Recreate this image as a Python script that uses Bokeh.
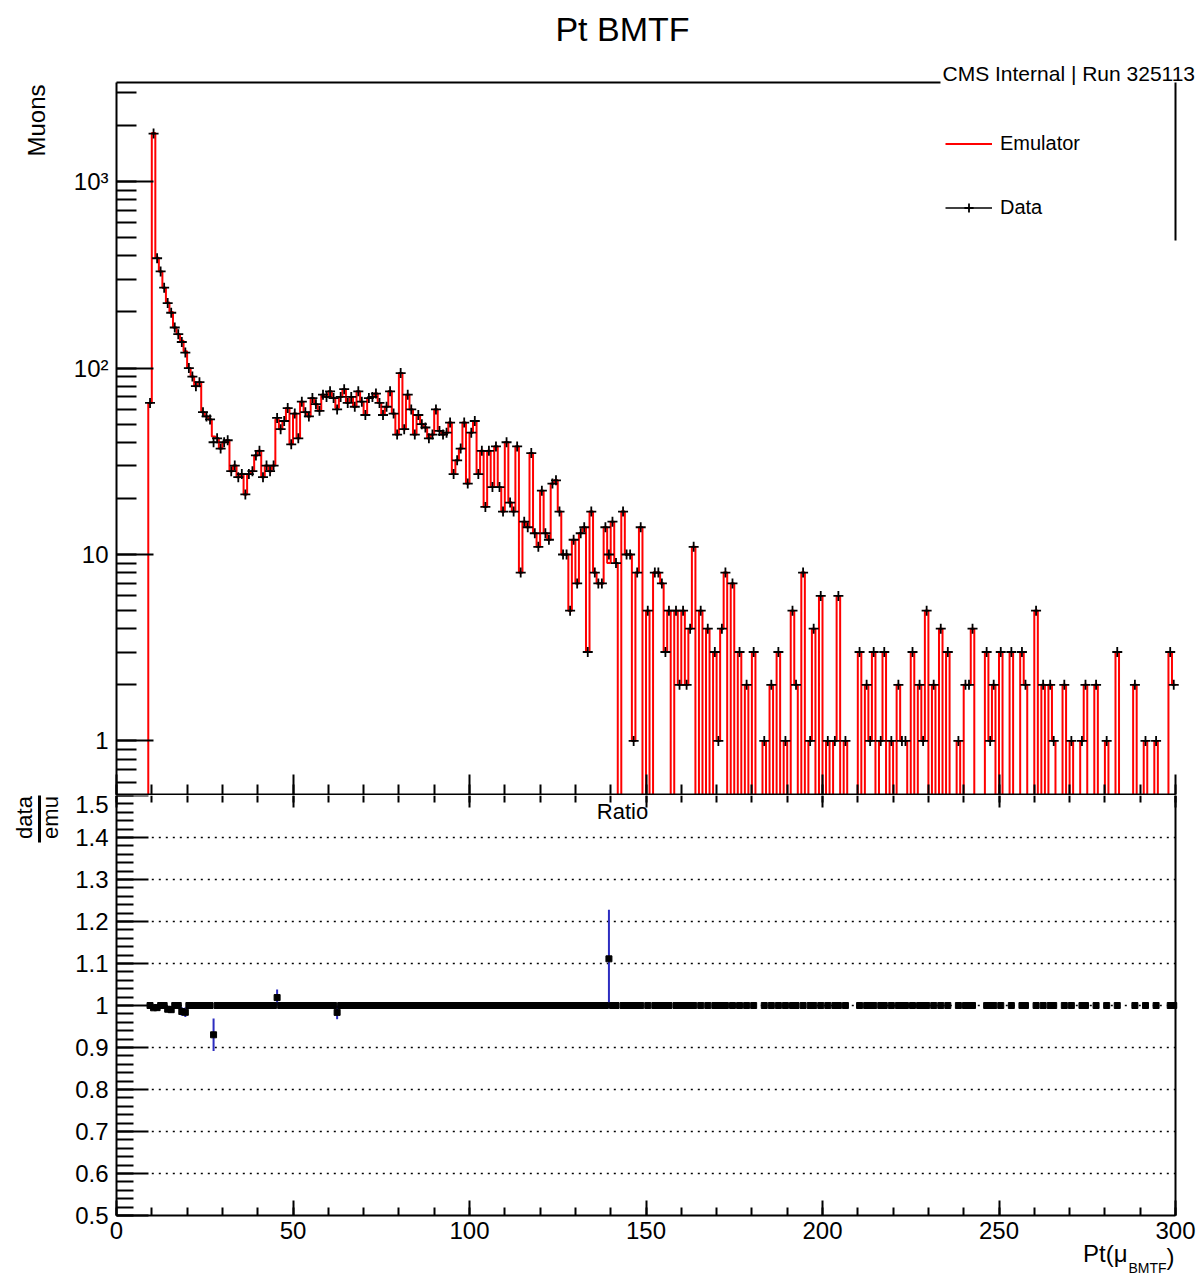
import numpy as np
from bokeh.plotting import figure
from bokeh.layouts import column
from bokeh.models import (Range1d, LinearAxis, LogAxis, FixedTicker, SingleIntervalTicker,
                          CustomJSTickFormatter, Label, Legend, LegendItem)
from bokeh.embed import file_html
from bokeh.resources import INLINE

# ---------------------------------------------------------------- data
X_LO, X_HI, BIN_W = 0.0, 300.0, 1.0
FIRST_BIN = 9          # emulator counts below start at the bin [9, 10)

emulator_counts = [
    65, 1820, 390, 330, 270, 225, 200, 165, 152, 140,            # 9-18
    123, 100, 90, 80, 84, 58, 55, 53, 43, 42,                     # 19-28
    37, 40, 41, 28, 30, 26, 27, 21, 27, 28,                       # 29-38
    34, 36, 26, 30, 28, 30, 53, 47, 52, 61,                       # 39-48
    39, 57, 42, 66, 58, 55, 69, 64, 59, 72,                       # 49-58
    70, 75, 69, 61, 70, 77, 65, 70, 62, 75,                       # 59-68
    66, 56, 69, 70, 73, 65, 56, 62, 75, 57,                       # 69-78
    44, 94, 47, 72, 60, 44, 56, 50, 48, 42,                       # 79-88
    44, 60, 46, 44, 45, 51, 27, 32, 37, 51,                       # 89-98
    24, 45, 52, 27, 36, 18, 36, 23, 38, 23,                       # 99-108
    17, 40, 19, 17, 38, 8, 15, 14, 35, 13,                        # 109-118
    11, 22, 13, 12, 24, 25, 17, 10, 10, 5,                        # 119-128
    12, 7, 13, 14, 3, 17, 8, 7, 7, 14,                            # 129-138
    9, 15, 9, 0, 17, 10, 10, 1, 8, 14,                            # 139-148
    0, 5, 0, 8, 8, 7, 3, 5, 0, 5,                                 # 149-158
    2, 5, 2, 4, 11, 0, 5, 0, 4, 0,                                # 159-168
    3, 1, 4, 8, 0, 7, 0, 3, 0, 2,                                 # 169-178
    0, 3, 0, 0, 1, 0, 2, 0, 3, 0,                                 # 179-188
    1, 0, 5, 2, 0, 8, 0, 1, 4, 0,                                 # 189-198
    6, 0, 1, 0, 1, 6, 0, 1, 0, 0,                                 # 199-208
    0, 3, 0, 2, 1, 3, 0, 1, 3, 0,                                 # 209-218
    1, 0, 2, 1, 1, 0, 3, 0, 2, 1,                                 # 219-228
    5, 0, 2, 0, 4, 0, 3, 0, 0, 1,                                 # 229-238
    0, 2, 2, 4, 0, 0, 0, 3, 1, 2,                                 # 239-248
    0, 3, 0, 0, 3, 0, 0, 3, 2, 0,                                 # 249-258
    0, 5, 0, 2, 0, 2, 1, 0, 0, 2,                                 # 259-268
    0, 1, 0, 0, 1, 2, 0, 0, 2, 0,                                 # 269-278
    0, 1, 0, 0, 3, 0, 0, 0, 0, 2,                                 # 279-288
    0, 0, 1, 0, 0, 1, 0, 0, 0, 3,                                 # 289-298
    2,                                                            # 299
]

# bins where data and emulator disagree
data_diff_bins = [10, 11, 14, 15, 18, 19, 27, 45, 62, 139]
data_diff_counts = [1810, 388, 223, 198, 138, 121, 40, 54, 60, 10]

log_tick_labels = {1: "1", 10: "10", 100: "10\u00b2", 1000: "10\u00b3"}
ratio_grid_levels = [0.6, 0.7, 0.8, 0.9, 1.0, 1.1, 1.2, 1.3, 1.4]

# ---------------------------------------------------------------- histograms
edges = np.arange(X_LO, X_HI + BIN_W / 2, BIN_W)
centers = 0.5 * (edges[:-1] + edges[1:])
emu = np.zeros(len(centers))
emu[FIRST_BIN:FIRST_BIN + len(emulator_counts)] = emulator_counts
data = emu.copy()
data[data_diff_bins] = data_diff_counts

# ---------------------------------------------------------------- geometry
W, H = 1201, 1278
FL, FR = 116, 1175          # axis box left / right (px)
TT, TB = 82, 795            # upper pad box top / bottom
RT, RB = 795, 1215          # ratio pad box top / bottom
Y_MIN, Y_MAX = 0.51, 3400.0
R_MIN, R_MAX = 0.5, 1.5
FLOOR = 1e-3                # empty bins drop below the log axis

FONT = "Liberation Sans"
ANCHOR_EM = 0.39            # text anchor sits this far (in em) above the baseline


def px_x(px):
    return X_LO + (px - FL) / (FR - FL) * (X_HI - X_LO)


def py_top(py):
    f = (TB - py) / (TB - TT)
    return 10 ** (np.log10(Y_MIN) + f * (np.log10(Y_MAX) - np.log10(Y_MIN)))


def py_ratio(py):
    return R_MAX - (py - RT) / (RB - RT) * (R_MAX - R_MIN)


blank = CustomJSTickFormatter(code="return ''")


def line_only_axis(ax):
    ax.ticker = FixedTicker(ticks=[], minor_ticks=[])
    ax.major_tick_in = ax.major_tick_out = 0
    ax.minor_tick_in = ax.minor_tick_out = 0
    ax.axis_line_width = 2
    ax.axis_line_color = "black"


def style_axis(ax, major_in, minor_in, labels=True):
    ax.axis_line_width = 2
    ax.axis_line_color = "black"
    ax.major_tick_in = major_in
    ax.major_tick_out = 0
    ax.minor_tick_in = minor_in
    ax.minor_tick_out = 0
    ax.major_tick_line_width = 2
    ax.minor_tick_line_width = 2
    ax.major_tick_line_color = "black"
    ax.minor_tick_line_color = "black"
    if labels:
        ax.major_label_text_font = FONT
        ax.major_label_text_font_size = "24px"
        ax.major_label_text_color = "black"
        ax.major_label_standoff = 6
    else:
        ax.formatter = blank


def text(fig, x, y, s, size, **kw):
    fig.add_layout(Label(x=x, y=y, text=s, text_font=FONT, text_font_size=f"{size}px",
                         text_color="black", text_baseline="alphabetic", **kw))


# ---------------------------------------------------------------- upper pad
# the plotting area spans the whole canvas; axes are pinned with fixed_location
top = figure(width=W, height=TB, x_range=Range1d(px_x(0), px_x(W)),
             y_range=Range1d(Y_MIN, py_top(0)), y_axis_type="log",
             output_backend="svg", toolbar_location=None,
             min_border_left=0, min_border_right=0, min_border_top=0, min_border_bottom=0)
top.outline_line_color = None
top.grid.visible = False
top.background_fill_color = "white"
top.border_fill_color = "white"

ly = top.yaxis[0]
style_axis(ly, 37, 20)
ly.fixed_location = X_LO
ly.bounds = (Y_MIN, Y_MAX)
ly.major_label_overrides = log_tick_labels
ly.major_label_standoff = 8

# the pad separator sits just inside the lower edge of the upper canvas
bx = top.xaxis[0]
style_axis(bx, 20, 10, labels=False)
bx.ticker = SingleIntervalTicker(interval=50, num_minor_ticks=5)
bx.fixed_location = py_top(TB - 1)
bx.bounds = (X_LO, X_HI)

top_border = LinearAxis(fixed_location=Y_MAX, bounds=(X_LO, px_x(940)))
line_only_axis(top_border)
top.add_layout(top_border, "above")
right_border = LogAxis(fixed_location=X_HI, bounds=(py_top(240), Y_MAX))
line_only_axis(right_border)
top.add_layout(right_border, "right")

# emulator: step outline
emu_draw = np.where(emu > 0, emu, FLOOR)
step_x = np.repeat(edges, 2)[1:-1]
step_y = np.repeat(emu_draw, 2)
emu_line = top.line(step_x, step_y, line_color="#ff0000", line_width=2)

# data: markers with bin-width bars
has_data = data > 0
data_bars = top.segment(x0=edges[:-1][has_data], y0=data[has_data],
                        x1=edges[1:][has_data], y1=data[has_data],
                        line_color="black", line_width=1.5)
data_pts = top.scatter(centers[has_data], data[has_data], marker="cross", size=10,
                       line_color="black", line_width=1.8)

legend = Legend(items=[LegendItem(label="Emulator", renderers=[emu_line]),
                       LegendItem(label="Data", renderers=[data_bars, data_pts])],
                location=(945, TB - 219), orientation="vertical",
                padding=0, margin=0, spacing=41, glyph_width=47, glyph_height=23,
                label_height=23, label_standoff=8,
                label_text_font=FONT, label_text_font_size="20px", label_text_color="black",
                border_line_color=None, background_fill_alpha=0)
top.add_layout(legend)

text(top, px_x(622), py_top(42 - ANCHOR_EM * 34), "Pt BMTF", 34, text_align="center")
text(top, px_x(942), py_top(81 - ANCHOR_EM * 21), "CMS Internal | Run 325113", 21,
     text_align="left")
text(top, px_x(45 - ANCHOR_EM * 24), py_top(84), "Muons", 24, angle=np.pi / 2,
     text_align="right")

# ---------------------------------------------------------------- ratio pad
bot = figure(width=W, height=H - RT, x_range=top.x_range,
             y_range=Range1d(py_ratio(H), R_MAX),
             output_backend="svg", toolbar_location=None,
             min_border_left=0, min_border_right=0, min_border_top=0, min_border_bottom=0)
bot.outline_line_color = None
bot.grid.visible = False
bot.background_fill_color = "white"
bot.border_fill_color = "white"

ry = bot.yaxis[0]
style_axis(ry, 32, 17)
ry.ticker = SingleIntervalTicker(interval=0.1, num_minor_ticks=5)
ry.major_label_overrides = {1: "1"}
ry.major_label_standoff = 8
ry.fixed_location = X_LO
ry.bounds = (R_MIN, R_MAX)

rx = bot.xaxis[0]
style_axis(rx, 15, 8)
rx.ticker = SingleIntervalTicker(interval=50, num_minor_ticks=5)
rx.fixed_location = R_MIN
rx.bounds = (X_LO, X_HI)

# downward ticks under the separator (the line itself belongs to the upper pad)
top_ticks = LinearAxis(ticker=SingleIntervalTicker(interval=50, num_minor_ticks=5),
                       fixed_location=R_MAX, bounds=(X_LO, X_HI))
style_axis(top_ticks, 12, 7, labels=False)
top_ticks.axis_line_color = None
bot.add_layout(top_ticks, "above")
ratio_right = LinearAxis(fixed_location=X_HI, bounds=(R_MIN, R_MAX))
line_only_axis(ratio_right)
bot.add_layout(ratio_right, "right")

grid_y = np.array(ratio_grid_levels)
bot.segment(x0=np.full(len(grid_y), 10.0), y0=grid_y, x1=np.full(len(grid_y), X_HI), y1=grid_y,
            line_color="black", line_width=1.5, line_dash="2 5")

ok = (emu > 0) & (data > 0)
r = data[ok] / emu[ok]
r_err = np.sqrt(np.abs((1 - 2 * r) * data[ok] + r ** 2 * emu[ok])) / emu[ok]
show_err = r_err > 0
bot.segment(x0=centers[ok][show_err], y0=(r - r_err)[show_err],
            x1=centers[ok][show_err], y1=(r + r_err)[show_err],
            line_color="#2c2cc0", line_width=2)
bot.segment(x0=edges[:-1][ok], y0=r, x1=edges[1:][ok], y1=r, line_color="black", line_width=2)
bot.scatter(centers[ok], r, marker="square", size=6, fill_color="black", line_color="black")

text(bot, px_x(622), py_ratio(820 - ANCHOR_EM * 22), "Ratio", 22, text_align="center")

# y title: data over emu, written upwards
text(bot, px_x(33 - ANCHOR_EM * 22), py_ratio(817), "data", 22, angle=np.pi / 2,
     text_align="center")
text(bot, px_x(59 - ANCHOR_EM * 22), py_ratio(817), "emu", 22, angle=np.pi / 2,
     text_align="center")
bot.segment(x0=[px_x(39)], y0=[py_ratio(793)], x1=[px_x(39)], y1=[py_ratio(842)],
            line_color="black", line_width=3)

# x title with subscript
text(bot, px_x(1127), py_ratio(1262 - ANCHOR_EM * 24), "Pt(\u03bc", 24, text_align="right")
text(bot, px_x(1128), py_ratio(1273 - ANCHOR_EM * 14), "BMTF", 14, text_align="left")
text(bot, px_x(1166), py_ratio(1265 - ANCHOR_EM * 24), ")", 24, text_align="left")

layout = column(top, bot, spacing=0)
open("out.html", "w").write(file_html(layout, INLINE))
